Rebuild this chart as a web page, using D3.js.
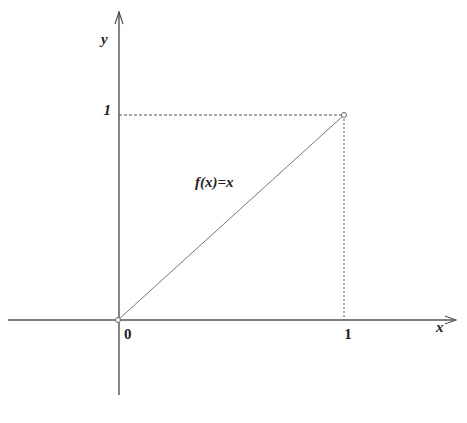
<!DOCTYPE html>
<html><head><meta charset="utf-8">
<script src="https://cdn.jsdelivr.net/npm/d3@7"></script>
<style>body{margin:0;background:#fff}</style>
</head><body>
<script>
const lineX = [0, 1];
const lineY = [0, 1];
const tickLabelsX = ["0", "1"];
const tickLabelsY = ["1"];
const funcLabel = "f(x)=x";

const W = 467, H = 423;
const svg = d3.select("body").append("svg").attr("width", W).attr("height", H);
const x = d3.scaleLinear().domain([0, 1]).range([118, 344]);
const y = d3.scaleLinear().domain([0, 1]).range([320, 115]);
const font = "'Liberation Serif', 'DejaVu Serif', serif";
const col = "#222";

// x axis
svg.append("line").attr("x1", 8).attr("x2", 455).attr("y1", y(0)).attr("y2", y(0)).attr("stroke", "#555").attr("stroke-width", 1.3);
svg.append("path").attr("d", `M${445},${y(0)-4} L${456},${y(0)} L${445},${y(0)+4}`).attr("fill", "none").attr("stroke", "#555").attr("stroke-width", 1.1);
// y axis
svg.append("line").attr("x1", x(0)+1).attr("x2", x(0)+1).attr("y1", 395).attr("y2", 12).attr("stroke", "#444").attr("stroke-width", 1.3);
svg.append("path").attr("d", `M${x(0)-3},${24} L${x(0)+1},${12} L${x(0)+5},${24}`).attr("fill", "none").attr("stroke", "#444").attr("stroke-width", 1.1);

// dashed guides
svg.append("line").attr("x1", x(0)+1).attr("x2", x(1)).attr("y1", y(1)).attr("y2", y(1)).attr("stroke", "#555").attr("stroke-dasharray", "3,2").attr("stroke-width", 1);
svg.append("line").attr("x1", x(1)).attr("x2", x(1)).attr("y1", y(1)).attr("y2", y(0)).attr("stroke", "#555").attr("stroke-dasharray", "2,2").attr("stroke-width", 1);

// function line
svg.append("line").attr("x1", x(lineX[0])).attr("y1", y(lineY[0])).attr("x2", x(lineX[1])).attr("y2", y(lineY[1])).attr("stroke", "#777").attr("stroke-width", 1);
// open circles
svg.selectAll("circle.e").data(lineX.map((v, i) => [v, lineY[i]])).enter().append("circle")
  .attr("cx", d => x(d[0])).attr("cy", d => y(d[1])).attr("r", 2.5)
  .attr("fill", "#fff").attr("stroke", "#666").attr("stroke-width", 1);

// labels
svg.append("text").attr("x", 124).attr("y", 339).text(tickLabelsX[0]).attr("font-family", font).attr("font-weight", "bold").attr("font-size", 15).attr("fill", col);
svg.append("text").attr("x", x(1)+4).attr("y", 339).attr("text-anchor", "middle").text(tickLabelsX[1]).attr("font-family", font).attr("font-weight", "bold").attr("font-size", 15).attr("fill", col);
svg.append("text").attr("x", 111).attr("y", y(1)-0).attr("text-anchor", "end").text(tickLabelsY[0]).attr("font-family", font).attr("font-weight", "bold").attr("font-style", "italic").attr("font-size", 15).attr("fill", col);
svg.append("text").attr("x", 436).attr("y", 332).text("x").attr("font-family", font).attr("font-weight", "bold").attr("font-style", "italic").attr("font-size", 15).attr("fill", col);
svg.append("text").attr("x", 101).attr("y", 44).text("y").attr("font-family", font).attr("font-weight", "bold").attr("font-style", "italic").attr("font-size", 15).attr("fill", col);
svg.append("text").attr("x", 195).attr("y", 187).text(funcLabel).attr("font-family", font).attr("font-weight", "bold").attr("font-style", "italic").attr("font-size", 15).attr("fill", col);
</script>
</body></html>
